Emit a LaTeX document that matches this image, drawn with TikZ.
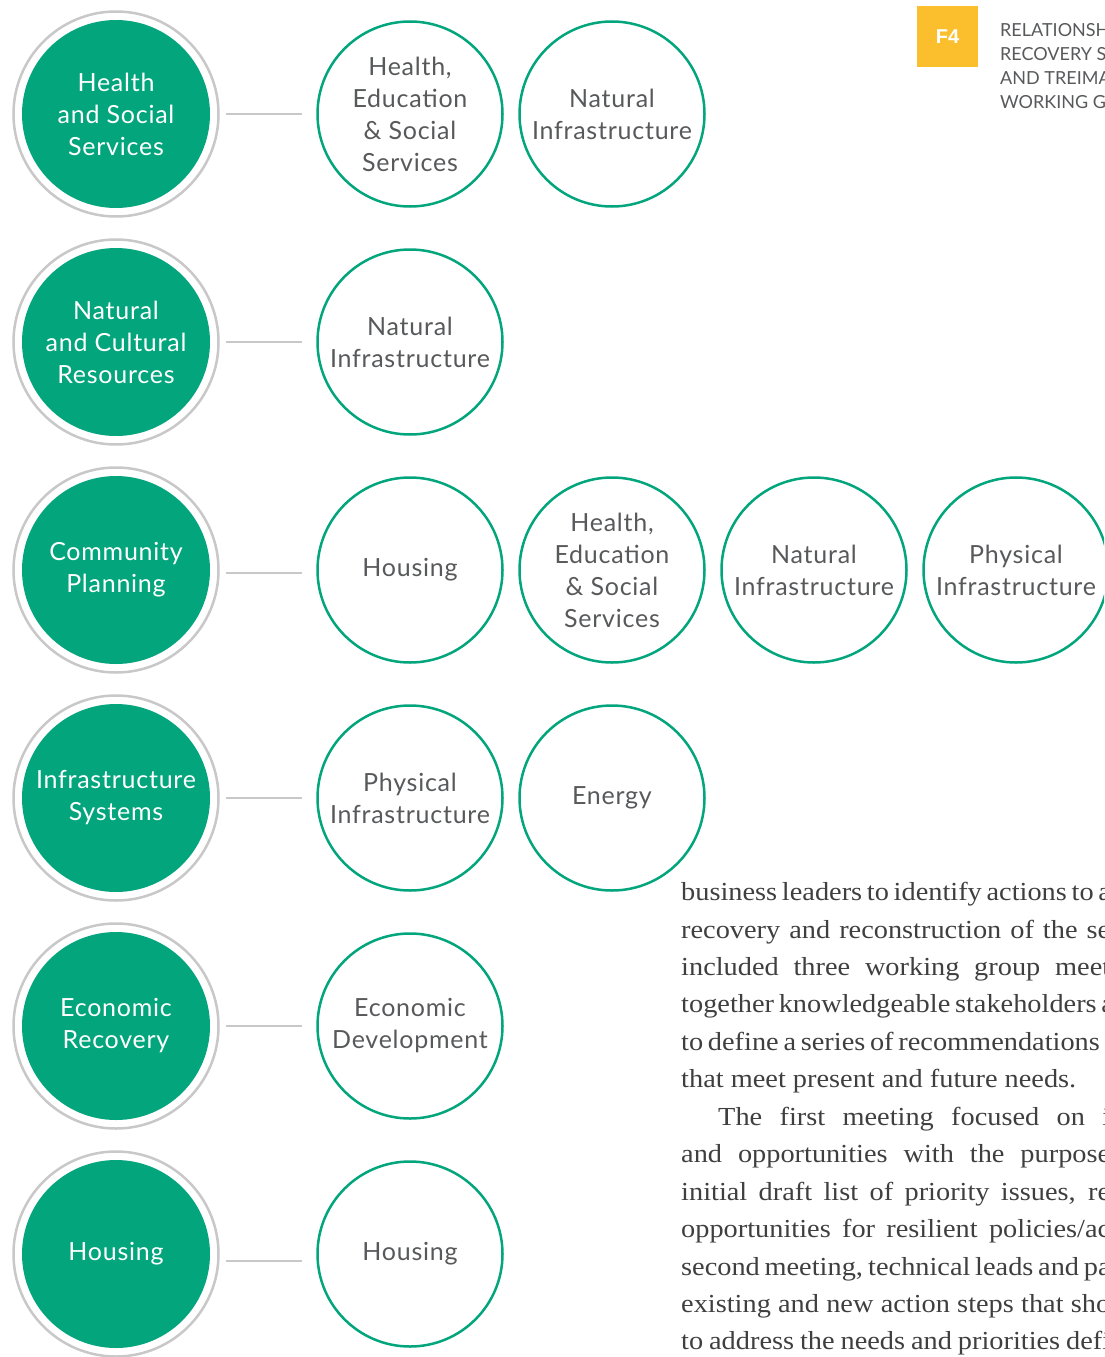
\documentclass[tikz,border=0pt]{standalone}
\usepackage{fontspec}
\setmainfont{Lato}
\newfontfamily\circfont[LetterSpace=3]{Lato}
\newfontfamily\bodyfont[FakeStretch=1.09]{Liberation Serif}
\newfontfamily\tagfont{Liberation Sans}
\usetikzlibrary{positioning}

\definecolor{rsfgreen}{HTML}{03A57C}
\definecolor{ringgray}{HTML}{C8C8C8}
\definecolor{textgray}{HTML}{58595B}
\definecolor{bodygray}{HTML}{3F3F40}
\definecolor{tagyellow}{HTML}{FBBF2E}

\begin{document}
\begin{tikzpicture}[
  x=1pt, y=-1pt,
  node distance=14.5pt,
  rsf/.style={circle, fill=rsfgreen, minimum size=188pt, inner sep=0pt, align=center,
    text=white, font=\circfont\fontsize{25}{32}\selectfont},
  ring/.style={draw=ringgray, line width=2.5pt},
  sub/.style={circle, draw=rsfgreen, line width=2.5pt, minimum size=185pt, inner sep=0pt,
    align=center, text=textgray, font=\circfont\fontsize{25}{32}\selectfont},
  link/.style={draw=ringgray, line width=2.5pt, shorten <=16pt, shorten >=14pt},
  para/.style={anchor=base west, inner sep=0pt, text=bodygray,
    font=\bodyfont\fontsize{26}{30}\selectfont}
]
\path[use as bounding box, clip] (0,0) rectangle (1104,1357);

% header
\node[fill=tagyellow, minimum size=61pt, inner sep=0pt, text=white,
  font=\tagfont\bfseries\fontsize{20}{24}\selectfont] (tag) at (947.5,36.5) {F4};
\node[anchor=north west, align=left, inner sep=0pt, text=textgray,
  font=\fontsize{18}{24}\selectfont] (title) at (1000,23.5)
  {RELATIONSH\\RECOVERY S\\AND TREIMA\\WORKING G};

% recovery support functions
\node[rsf] (m1) at (116,114) {Health\\and Social\\Services};
\node[rsf] (m2) at (116,342) {Natural\\and Cultural\\Resources};
\node[rsf] (m3) at (116,570) {Community\\Planning};
\node[rsf] (m4) at (116,798) {Infrastructure\\Systems};
\node[rsf] (m5) at (116,1026) {Economic\\Recovery};
\node[rsf] (m6) at (116,1254) {Housing};

\draw[ring] (m1.center) circle[radius=102.5];
\draw[ring] (m2.center) circle[radius=102.5];
\draw[ring] (m3.center) circle[radius=102.5];
\draw[ring] (m4.center) circle[radius=102.5];
\draw[ring] (m5.center) circle[radius=102.5];
\draw[ring] (m6.center) circle[radius=102.5];

% working groups
\node[sub] (s11) at (410,114) {Health,\\Education\\\& Social\\Services};
\node[sub, right=of s11] (s12) {Natural\\Infrastructure};

\node[sub] (s21) at (410,342) {Natural\\Infrastructure};

\node[sub] (s31) at (410,570) {Housing};
\node[sub, right=of s31] (s32) {Health,\\Education\\\& Social\\Services};
\node[sub, right=of s32] (s33) {Natural\\Infrastructure};
\node[sub, right=of s33] (s34) {Physical\\Infrastructure};

\node[sub] (s41) at (410,798) {Physical\\Infrastructure};
\node[sub, right=of s41] (s42) {Energy};

\node[sub] (s51) at (410,1026) {Economic\\Development};

\node[sub] (s61) at (410,1254) {Housing};

\draw[link] (m1) -- (s11);
\draw[link] (m2) -- (s21);
\draw[link] ([yshift=-3pt]m3.east) -- ([yshift=-3pt]s31.west);
\draw[link] (m4) -- (s41);
\draw[link] (m5) -- (s51);
\draw[link] ([yshift=-7pt]m6.east) -- ([yshift=-7pt]s61.west);

% body text
\node[para] (p1) at (681,900.5) {\hbox to 429pt{business leaders to identify actions to a}};
\node[para] (p2) at (681,938) {\hbox to 429pt{recovery and reconstruction of the se}};
\node[para] (p3) at (681,975.4) {\hbox to 429pt{included three working group meet}};
\node[para] (p4) at (681,1012.8) {\hbox to 429pt{together knowledgeable stakeholders a}};
\node[para] (p5) at (681,1050.3) {\hbox to 429pt{to define a series of recommendations f}};
\node[para] (p6) at (681,1087.7) {that meet present and future needs.};
\node[para] (p7) at (681,1125.2) {\hbox to 429pt{\kern37pt The first meeting focused on i}};
\node[para] (p8) at (681,1162.6) {\hbox to 429pt{and opportunities with the purpose}};
\node[para] (p9) at (681,1200) {\hbox to 429pt{initial draft list of priority issues, re}};
\node[para] (p10) at (681,1237.5) {\hbox to 429pt{opportunities for resilient policies/ac}};
\node[para] (p11) at (681,1275) {\hbox to 429pt{second meeting, technical leads and par}};
\node[para] (p12) at (681,1312.4) {\hbox to 429pt{existing and new action steps that sho}};
\node[para] (p13) at (681,1349.8) {\hbox to 429pt{to address the needs and priorities defi}};
\end{tikzpicture}
\end{document}
